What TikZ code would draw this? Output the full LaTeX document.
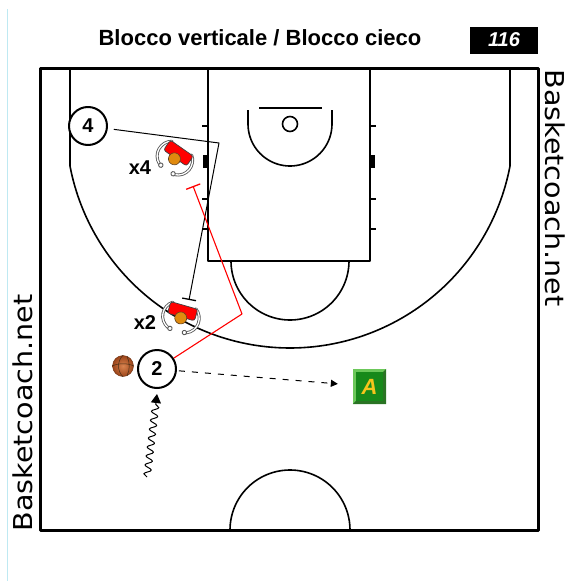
\documentclass[tikz,border=0pt]{standalone}
\usepackage{fontspec}
\setmainfont{Liberation Sans}
\newfontfamily\dejavu{DejaVu Sans}
\usetikzlibrary{arrows.meta,decorations.pathmorphing,calc}

\definecolor{guide}{HTML}{BFE9F2}
\definecolor{headorange}{HTML}{E08A0E}
\definecolor{Alight}{HTML}{6CC85A}
\definecolor{Adark}{HTML}{2A7424}
\definecolor{Amid}{HTML}{17891A}
\definecolor{Ayellow}{HTML}{F6C51C}
\definecolor{ballin}{HTML}{D98450}
\definecolor{ballout}{HTML}{9C4419}

\tikzset{
  court/.style={line width=1.6pt},
  boundary/.style={line width=3pt},
  player/.style={circle, draw, line width=2pt, minimum size=38pt, inner sep=0pt,
    fill=white, font=\bfseries\fontsize{20}{20}\selectfont},
  lbl/.style={font=\bfseries\fontsize{20}{20}\selectfont, inner sep=0pt},
  screen/.style={line width=1pt, -{Bar[width=14pt,line width=1.3pt]}},
  cutline/.style={red, line width=1.1pt, -{Bar[width=15pt,line width=1.3pt]}},
  pass/.style={line width=1pt, dash pattern=on 6pt off 7pt,
    -{Triangle[length=7pt,width=7pt]}},
  dribble/.style={line width=1pt, decorate,
    decoration={snake, amplitude=3.5pt, segment length=9pt, post length=8pt},
    -{Triangle[length=9pt,width=10pt]}},
  armout/.style={line width=3pt, draw=black!65, line cap=round},
  armin/.style={line width=1.3pt, draw=white, line cap=round},
  defender/.pic={
    \foreach \s in {1,-1} {
      \draw[armout] (\s*12,-12) .. controls (\s*21,-6) and (\s*21,9) .. (\s*9,14);
      \draw[armin]  (\s*12,-12) .. controls (\s*21,-6) and (\s*21,9) .. (\s*9,14);
      \draw[black!65, line width=0.9pt, fill=white] (\s*7.5,14) circle[radius=2.2pt];
    }
    \draw[fill=red, draw=black!75, line width=0.7pt, rounded corners=2.5pt]
      (-14,-12) rectangle (14,0);
    \draw[fill=headorange, draw=brown!50!black, line width=0.6pt]
      (0,1) circle[radius=6pt];
  }
}

\begin{document}
\begin{tikzpicture}[x=1pt,y=-1pt,line join=round]
\useasboundingbox (0,0) rectangle (565,581);

% page guide line
\draw[guide, line width=1pt] (7,9) -- (7,581);

% heading
\node[font=\bfseries\fontsize{22}{22}\selectfont] (title) at (260,38)
  {Blocco verticale / Blocco cieco};
\node[fill=black, text=white, minimum width=68pt, minimum height=27pt, inner sep=0pt,
  font=\bfseries\itshape\fontsize{20}{20}\selectfont] (num) at (504,40) {116};

% side marks
\node[rotate=90, anchor=base, inner sep=0pt, font=\dejavu\fontsize{26}{26}\selectfont]
  (markL) at (32,413) {\scalebox{1.1}[1]{Basketcoach.net}};
\node[rotate=-90, anchor=base, inner sep=0pt, font=\dejavu\fontsize{26}{26}\selectfont]
  (markR) at (545,188) {\scalebox{1.1}[1]{Basketcoach.net}};

% half court
\draw[court] (70,68) -- (70,166)
  -- plot[domain=169.2:10.8, samples=120] ({290+224*cos(\x)},{124+224*sin(\x)})
  -- (510,68);
\draw[court] (208,68) rectangle (370,261);
\draw[court] plot[domain=180:0, samples=60] ({290+59*cos(\x)},{261+59*sin(\x)});
\draw[court] (248,110) -- (248,124)
  -- plot[domain=180:0, samples=50] ({290+42*cos(\x)},{124+42*sin(\x)})
  -- (332,110);
\draw[court] (259,108) -- (322,108);
\draw[court] (290,124) circle[radius=7.5pt];
\draw[court] plot[domain=180:360, samples=60] ({290+60*cos(\x)},{530+60*sin(\x)});

% lane marks
\foreach \yy in {126,199,229} {
  \draw[court] (202,\yy) -- (208,\yy);
  \draw[court] (370,\yy) -- (376,\yy);
}
\fill (203,155) rectangle (208,168);
\fill (370,155) rectangle (375,168);

\draw[boundary] (40,68) rectangle (538,530);

% defenders
\pic[rotate=-35] at (175,158) {defender};
\pic[rotate=-16] at (181,317) {defender};
\node[lbl] (lx4) at (140,168) {x4};
\node[lbl] (lx2) at (145,323) {x2};

% attackers
\node[player] (p4) at (88,126) {4};
\node[player] (p2) at (157,369) {2};

% ball
\node[circle, minimum size=21pt, inner sep=0pt, draw=ballout!70!black, line width=0.4pt,
  inner color=ballin, outer color=ballout] (ball) at (123,366) {};
\draw[brown!35!black, line width=0.5pt] (ball.north) .. controls (117,361) and (117,371) .. (ball.south);
\draw[brown!35!black, line width=0.5pt] (ball.west) .. controls (118,363) and (128,363) .. (ball.east);
\draw[brown!35!black, line width=0.5pt] ($(ball.north)+(4,1)$) .. controls (130,362) and (130,370) .. ($(ball.south)+(4,-1)$);

% target
\path node[minimum width=33pt, minimum height=35pt, inner sep=0pt] (A) at (369.5,386.5) {};
\fill[Alight] (A.south west) rectangle (A.north east);
\fill[Adark] (A.south west) -- (A.south east) -- (A.north east) -- cycle;
\fill[Amid] ($(A.south west)+(3,-3)$) rectangle ($(A.north east)+(-3,3)$);
\node[text=Ayellow, font=\bfseries\itshape\fontsize{22}{22}\selectfont] (Aletter) at (A) {A};

% screen by 4
\coordinate (k1) at (219,143);
\coordinate (scr2) at (189,300);
\draw[screen, shorten <=6pt] (p4) -- (k1) -- (scr2);

% cut by 2
\coordinate (k2) at (242,314);
\coordinate (scr4) at (193,186);
\draw[cutline] (p2) -- (k2) -- (scr4);

% pass and dribble
\draw[pass, shorten <=2pt, shorten >=15pt] (p2) -- (A);
\coordinate (dr) at (147,477);
\draw[dribble] (dr) -- ($(p2.south)+(0,5)$);
\end{tikzpicture}
\end{document}
